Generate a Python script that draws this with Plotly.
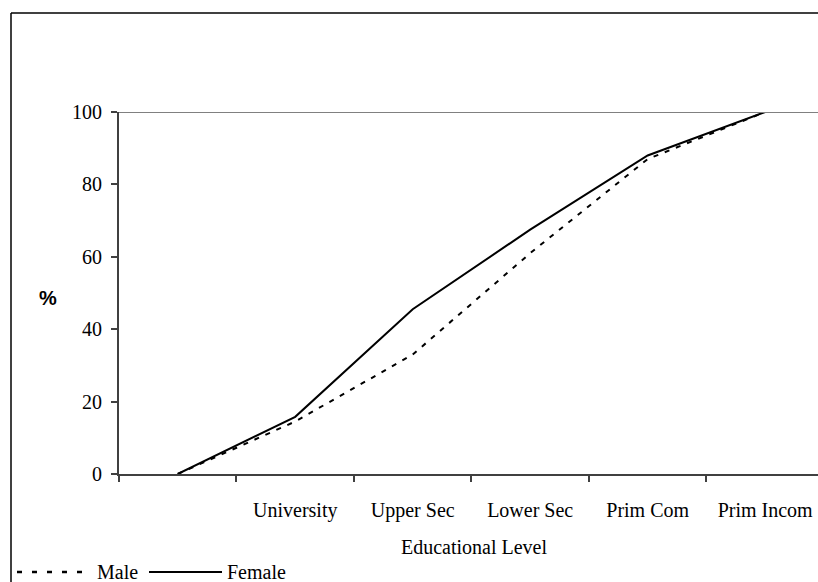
import plotly.graph_objects as go

# Data
categories = [" ", "University", "Upper Sec", "Lower Sec", "Prim Com", "Prim Incom"]
male = [0, 14.5, 33, 61, 87, 100]
female = [0, 15.8, 45.5, 67.5, 88, 100]
y_ticks = [0, 20, 40, 60, 80, 100]

W, H = 818, 582
L, R, T = 119, 0, 112
B = H - 474
PW, PH = W - L - R, H - T - B

def px(x):
    return (x - L) / PW

def py(y):
    return (H - B - y) / PH

serif = "Liberation Serif, Times New Roman, serif"

fig = go.Figure()
fig.add_trace(go.Scatter(x=categories, y=male, mode="lines", name="Male",
                         line=dict(color="black", width=2, dash="5px,7px"),
                         showlegend=False))
fig.add_trace(go.Scatter(x=categories, y=female, mode="lines", name="Female",
                         line=dict(color="black", width=2),
                         showlegend=False))

fig.update_layout(
    width=W, height=H,
    margin=dict(l=L, r=R, t=T, b=B, autoexpand=False),
    paper_bgcolor="white", plot_bgcolor="white",
    font=dict(family=serif, size=20, color="black"),
    showlegend=False,
)
fig.update_xaxes(
    type="category", categoryorder="array", categoryarray=categories,
    range=[-0.5, 5.45], tickson="boundaries", ticks="outside", ticklen=6,
    tickcolor="#404040", tickwidth=1.5,
    showline=True, linecolor="#404040", linewidth=2, showgrid=False,
    zeroline=False, ticklabelstandoff=17,
    tickfont=dict(family=serif, size=20, color="black"),
)
fig.update_yaxes(
    range=[0, 100], tickvals=y_ticks, ticks="outside", ticklen=6,
    tickcolor="#404040", tickwidth=1.5,
    showline=True, linecolor="#404040", linewidth=2, showgrid=False,
    zeroline=False, ticklabelstandoff=5,
    tickfont=dict(family=serif, size=20, color="black"),
)

shapes = [
    # top border of plot area at 100
    dict(type="line", xref="paper", yref="y", x0=0, x1=1, y0=100, y1=100,
         line=dict(color="#808080", width=2)),
    # outer chart frame
    dict(type="line", xref="paper", yref="paper", x0=px(11), x1=px(840), y0=py(13), y1=py(13),
         line=dict(color="black", width=1.5)),
    dict(type="line", xref="paper", yref="paper", x0=px(11), x1=px(11), y0=py(13), y1=py(600),
         line=dict(color="black", width=1.5)),
    # legend samples
    dict(type="line", xref="paper", yref="paper", x0=px(17), x1=px(92), y0=py(572), y1=py(572),
         line=dict(color="black", width=2.5, dash="5px,10px")),
    dict(type="line", xref="paper", yref="paper", x0=px(149), x1=px(222), y0=py(572), y1=py(572),
         line=dict(color="black", width=2)),
]
annotations = [
    dict(text="Educational Level", xref="x", yref="paper", x=2.52, y=py(547),
         showarrow=False, xanchor="center", yanchor="middle",
         font=dict(family=serif, size=20, color="black")),
    dict(text="<b>%</b>", xref="paper", yref="paper", x=px(48), y=py(298),
         showarrow=False, xanchor="center", yanchor="middle",
         font=dict(family="Liberation Sans, Arial, sans-serif", size=20, color="black")),
    dict(text="Male", xref="paper", yref="paper", x=px(95), y=py(572),
         showarrow=False, xanchor="left", yanchor="middle",
         font=dict(family=serif, size=20, color="black")),
    dict(text="Female", xref="paper", yref="paper", x=px(225), y=py(572),
         showarrow=False, xanchor="left", yanchor="middle",
         font=dict(family=serif, size=20, color="black")),
]
fig.update_layout(shapes=shapes, annotations=annotations)

fig.write_html(
    "out.html",
    config={"displayModeBar": False},
    post_script="document.body.style.margin='0';document.documentElement.style.overflow='hidden';",
)
